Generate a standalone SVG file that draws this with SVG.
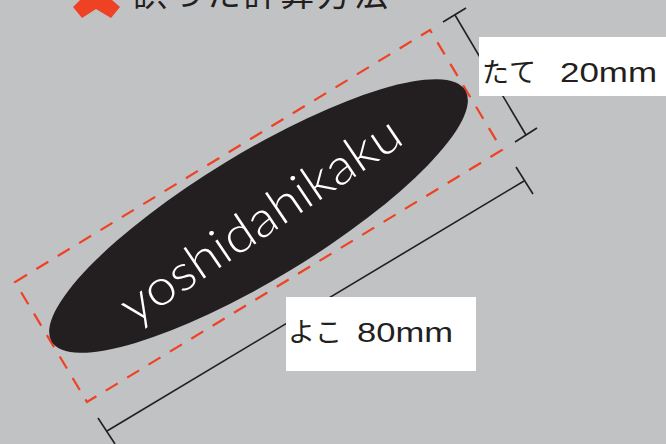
<svg xmlns="http://www.w3.org/2000/svg" width="666" height="444" viewBox="0 0 666 444">
<style>
.dim{stroke:#231F20;stroke-width:1.6;fill:none}
.dash{stroke:#EF4123;stroke-width:2.2;fill:none;stroke-dasharray:14 11}
.lbl{font-family:"Noto Sans CJK JP","Liberation Sans",sans-serif;font-size:27px;fill:#231F20}
.num{font-family:"Liberation Sans",sans-serif;font-size:27px;fill:#231F20}
</style>
<rect width="666" height="444" fill="#C1C2C4"/>
<g id="title">
<polygon points="80,0 112,0 120,7 111,18 96,9 82,18 73,7" fill="#EF4123"/>
<text x="133" y="6" font-family="Noto Sans CJK JP, sans-serif" font-size="34" fill="#231F20" textLength="255" lengthAdjust="spacing">誤った計算方法</text>
</g>
<g id="frame">
<path class="dash" d="M15,282 L430,30 L502,150 L87,402 Z"/>
</g>
<g id="badge">
<ellipse cx="258.5" cy="216" rx="242" ry="63" transform="rotate(-31.3 258.5 216)" fill="#231F20"/>
<text transform="translate(270 234) rotate(-34)" text-anchor="middle" font-family="Lato, 'Open Sans', sans-serif" font-weight="300" font-size="50" fill="#FFFFFF" textLength="328" lengthAdjust="spacingAndGlyphs">yoshidahikaku</text>
</g>
<g id="connectors">
<line class="dim" x1="107" y1="431" x2="524" y2="181"/>
<line class="dim" x1="98" y1="418" x2="115" y2="444"/>
<line class="dim" x1="516" y1="167" x2="533" y2="194"/>
<line class="dim" x1="455" y1="15" x2="526" y2="135"/>
<line class="dim" x1="443" y1="22" x2="466" y2="8"/>
<line class="dim" x1="515" y1="142" x2="537" y2="128"/>
</g>
<g id="label-tate">
<rect x="479" y="37" width="187" height="59" fill="#FFFFFF"/>
<text class="lbl" x="482" y="82">たて</text>
<text class="num" x="560" y="82" textLength="97" lengthAdjust="spacingAndGlyphs">20mm</text>
</g>
<g id="label-yoko">
<rect x="286" y="297" width="190" height="74" fill="#FFFFFF"/>
<text class="lbl" x="288" y="342">よこ</text>
<text class="num" x="357" y="342" textLength="96" lengthAdjust="spacingAndGlyphs">80mm</text>
</g>
</svg>
